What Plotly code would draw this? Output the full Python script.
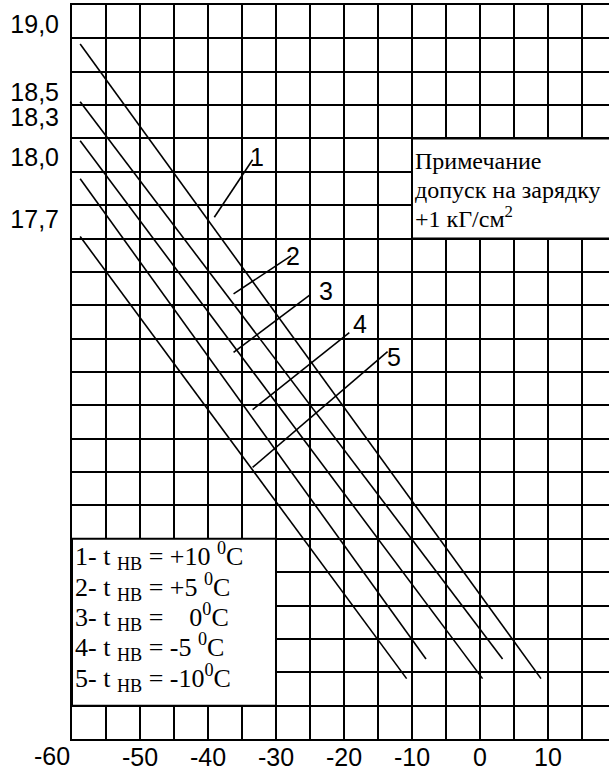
import plotly.graph_objects as go

# Lines 1..5 (t_НВ = +10, +5, 0, -5, -10 °C); x in °C, y in grid rows from bottom
line_names = ['1', '2', '3', '4', '5']
x_start = [-58.8, -58.8, -58.8, -58.8, -58.8]
y_start = [20.83, 19.10, 17.93, 16.79, 15.06]
x_end = [8.97, 3.32, 0.38, -7.94, -10.79]
y_end = [1.81, 2.40, 1.81, 2.40, 1.81]

# Leader lines to the number labels
lead_x0 = [-39.07, -36.24, -36.24, -33.44, -33.44]
lead_y0 = [15.64, 13.34, 11.59, 9.87, 8.14]
lead_x1 = [-33.44, -27.79, -25.00, -19.22, -13.59]
lead_y1 = [17.36, 14.48, 13.31, 12.18, 11.61]
label_x = [-32.74, -27.56, -22.60, -17.65, -12.60]
label_y = [17.43, 14.47, 13.43, 12.45, 11.44]

# Tick labels
x_tick_vals = [-50, -40, -30, -20, -10, 0, 10]
x_tick_text = ['-50', '-40', '-30', '-20', '-10', '0', '10']
y_tick_pos = [21.42, 19.40, 18.65, 17.44, 15.59]
y_tick_text = ['19,0', '18,5', '18,3', '18,0', '17,7']

legend_lines = [
    '1- t <sub>НВ</sub> = +10 <sup>0</sup>C',
    '2- t <sub>НВ</sub> = +5 <sup>0</sup>C',
    '3- t <sub>НВ</sub> =\u00a0\u00a0\u00a0\u00a00<sup>0</sup>C',
    '4- t <sub>НВ</sub> = -5 <sup>0</sup>C',
    '5- t <sub>НВ</sub> = -10<sup>0</sup>C',
]
legend_y = [5.49, 4.57, 3.67, 2.75, 1.82]

note_lines = ['Примечание', 'допуск на зарядку', '+1 кГ/см<sup>2</sup>']
note_y = [17.31, 16.45, 15.65]

x_max = -60 + 537 / 6.8

fig = go.Figure()
for i in range(5):
    fig.add_trace(go.Scatter(x=[x_start[i], x_end[i]], y=[y_start[i], y_end[i]],
                             mode='lines', line=dict(color='black', width=1.6),
                             showlegend=False, hoverinfo='skip'))
    fig.add_trace(go.Scatter(x=[lead_x0[i], lead_x1[i]], y=[lead_y0[i], lead_y1[i]],
                             mode='lines', line=dict(color='black', width=1.6),
                             showlegend=False, hoverinfo='skip'))

annotations = []
for i in range(5):
    annotations.append(dict(x=label_x[i], y=label_y[i], text=line_names[i], showarrow=False,
                            xanchor='center', yanchor='middle',
                            font=dict(family='Liberation Sans', size=25, color='black')))
for t, yv in zip(legend_lines, legend_y):
    annotations.append(dict(x=-60, y=yv, text=t, showarrow=False, xanchor='left', yanchor='middle',
                            xshift=1, font=dict(family='Liberation Serif', size=26, color='black')))
for t, yv in zip(note_lines, note_y):
    annotations.append(dict(x=-9.9, y=yv, text=t, showarrow=False, xanchor='left', yanchor='middle',
                            font=dict(family='Liberation Serif', size=24, color='black')))
annotations.append(dict(x=-60, y=0, xref='x', yref='y', text='-60', showarrow=False,
                        xanchor='right', yanchor='top', xshift=-1, yshift=-2, borderpad=0,
                        font=dict(family='Liberation Sans', size=25, color='black')))

shapes = [
    dict(type='rect', x0=-60, x1=-30, y0=1, y1=6, xref='x', yref='y', layer='above',
         fillcolor='white', line=dict(color='black', width=2)),
    dict(type='rect', x0=-10, x1=x_max + 1, y0=15, y1=18, xref='x', yref='y', layer='above',
         fillcolor='white', line=dict(color='black', width=2)),
]

fig.update_layout(
    width=609, height=771,
    margin=dict(l=72, r=0, t=5, b=32),
    plot_bgcolor='white', paper_bgcolor='white',
    showlegend=False,
    annotations=annotations,
    shapes=shapes,
    xaxis=dict(range=[-60, x_max], tickmode='array', tickvals=x_tick_vals, ticktext=x_tick_text,
               showgrid=True, gridcolor='black', gridwidth=2, zeroline=False,
               minor=dict(tickmode='linear', tick0=-60, dtick=5, showgrid=True,
                          gridcolor='black', gridwidth=2, ticks=''),
               showline=True, linecolor='black', linewidth=2, mirror=True, ticks='', ticklen=0,
               ticklabelstandoff=-5, automargin=False,
               tickfont=dict(family='Liberation Sans', size=25, color='black')),
    yaxis=dict(range=[0, 22], tickmode='array', tickvals=y_tick_pos, ticktext=y_tick_text,
               showgrid=False, zeroline=False,
               minor=dict(tickmode='linear', tick0=0, dtick=1, showgrid=True,
                          gridcolor='black', gridwidth=2, ticks=''),
               showline=True, linecolor='black', linewidth=2, ticks='',
               ticklabelstandoff=6, automargin=False,
               tickfont=dict(family='Liberation Sans', size=25, color='black')),
)

# drop the browser's default 8px page margin so the chart sits at the window corner
fig.write_html('out.html', config={'displayModeBar': False},
               post_script="document.body.style.margin='0px';")
